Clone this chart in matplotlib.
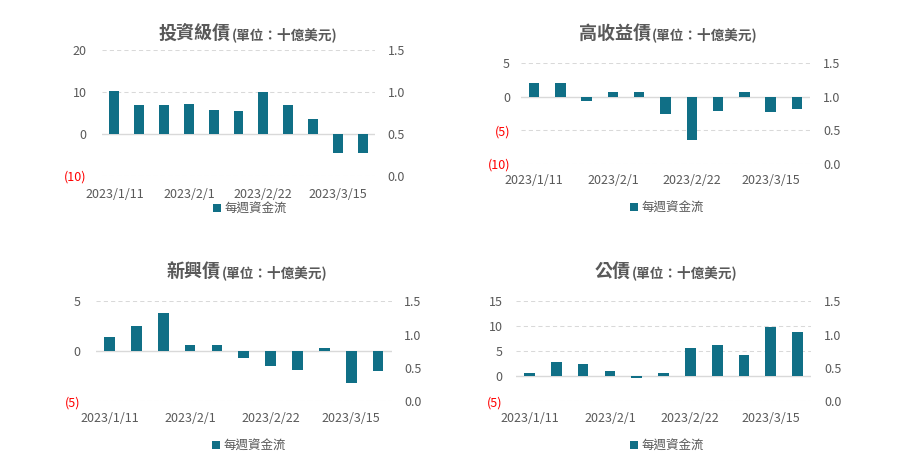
import matplotlib
matplotlib.use("Agg")
import matplotlib.pyplot as plt
from matplotlib.patches import Patch

plt.rcParams['font.family'] = ['Noto Sans CJK TC', 'DejaVu Sans']

dates = ['2023/1/11', '2023/1/18', '2023/1/25', '2023/2/1', '2023/2/8', '2023/2/15',
         '2023/2/22', '2023/3/1', '2023/3/8', '2023/3/15', '2023/3/22']
ig_flow = [10.3, 7.0, 7.0, 7.2, 5.8, 5.5, 9.9, 7.0, 3.6, -4.5, -4.5]
hy_flow = [2.0, 2.0, -0.7, 0.65, 0.65, -2.65, -6.4, -2.2, 0.65, -2.35, -1.9]
em_flow = [1.43, 2.53, 3.83, 0.63, 0.63, -0.67, -1.47, -1.87, 0.33, -3.17, -1.97]
muni_flow = [0.67, 2.87, 2.47, 1.07, -0.33, 0.67, 5.67, 6.27, 4.27, 9.87, 8.87]

titles = ['投資級債', '高收益債', '新興債', '公債']
subtitle = '(單位：十億美元)'
legend_label = '每週資金流'
right_ticks = [0.0, 0.5, 1.0, 1.5]

BAR = '#106F86'
GRAY = '#595959'
GRID = '#D9D9D9'

W, H = 902, 465
fig = plt.figure(figsize=(W / 100, H / 100), dpi=100)

def px_rect(x0, x1, ytop, ybot):
    return [x0 / W, 1 - ybot / H, (x1 - x0) / W, (ybot - ytop) / H]

panels = [
    dict(data=ig_flow, rect=px_rect(102, 375, 50, 176), yt=[-10, 0, 10, 20],
         title_x=231, title_y=39, leg=(250, 209), xpad=9.0, lpad=11, rpad=9),
    dict(data=hy_flow, rect=px_rect(521, 810, 63, 163.7), yt=[-10, -5, 0, 5],
         title_x=651, title_y=39, leg=(667, 208), xpad=7.5, lpad=8, rpad=9.5),
    dict(data=em_flow, rect=px_rect(96, 391.5, 301.3, 401.3), yt=[-5, 0, 5],
         title_x=221, title_y=277, leg=(249, 446), xpad=8.0, lpad=11, rpad=9),
    dict(data=muni_flow, rect=px_rect(516, 811, 301.3, 401.3), yt=[-5, 0, 5, 10, 15],
         title_x=631, title_y=277, leg=(667, 446), xpad=8.0, lpad=9.5, rpad=9.5),
]

def fmt(v):
    v = int(v)
    return f'({abs(v)})' if v < 0 else f'{v}'

for p, title in zip(panels, titles):
    ax = fig.add_axes(p['rect'])
    x = list(range(len(dates)))
    ax.bar(x, p['data'], width=0.4, color=BAR, zorder=3)
    ax.set_xlim(-0.5, len(dates) - 0.5)
    ax.set_ylim(p['yt'][0], p['yt'][-1])
    ax.set_yticks(p['yt'])
    ax.set_yticklabels([fmt(v) for v in p['yt']])
    ax.set_xticks(x[::3])
    ax.set_xticklabels(dates[::3])
    for s in ax.spines.values():
        s.set_visible(False)
    ax.tick_params(axis='both', length=0, labelsize=9, colors=GRAY)
    ax.tick_params(axis='x', pad=p['xpad'])
    ax.tick_params(axis='y', pad=p['lpad'])
    for lbl, v in zip(ax.get_yticklabels(), p['yt']):
        lbl.set_color('#FF0000' if v < 0 else GRAY)
    for v in p['yt']:
        if v != 0:
            ax.axhline(v, color=GRID, lw=0.75, ls=(0, (4, 3)), zorder=1)
    ax.axhline(0, color=GRID, lw=1.0, zorder=2)

    ax2 = ax.twinx()
    ax2.set_ylim(0, 1.5)
    ax2.set_yticks(right_ticks)
    ax2.set_yticklabels([f'{v:.1f}' for v in right_ticks])
    for s in ax2.spines.values():
        s.set_visible(False)
    ax2.tick_params(axis='y', length=0, labelsize=9, colors=GRAY, pad=p['rpad'])

    tx = p['title_x'] / W
    ty = 1 - p['title_y'] / H
    fig.text(tx, ty, title, ha='right', va='baseline', fontsize=13,
             fontweight='bold', color=GRAY)
    fig.text(tx + 1 / W, ty, subtitle, ha='left', va='baseline', fontsize=9.8,
             fontweight='bold', color=GRAY)

    lx, ly = p['leg']
    fig.legend(handles=[Patch(facecolor=BAR, edgecolor='none', label=legend_label)],
               loc='center', bbox_to_anchor=(lx / W, 1 - ly / H), frameon=False,
               fontsize=9, handlelength=0.6, handleheight=0.6, handletextpad=0.3,
               labelcolor=GRAY, borderpad=0, borderaxespad=0)

fig.savefig('out.png', dpi=100)
